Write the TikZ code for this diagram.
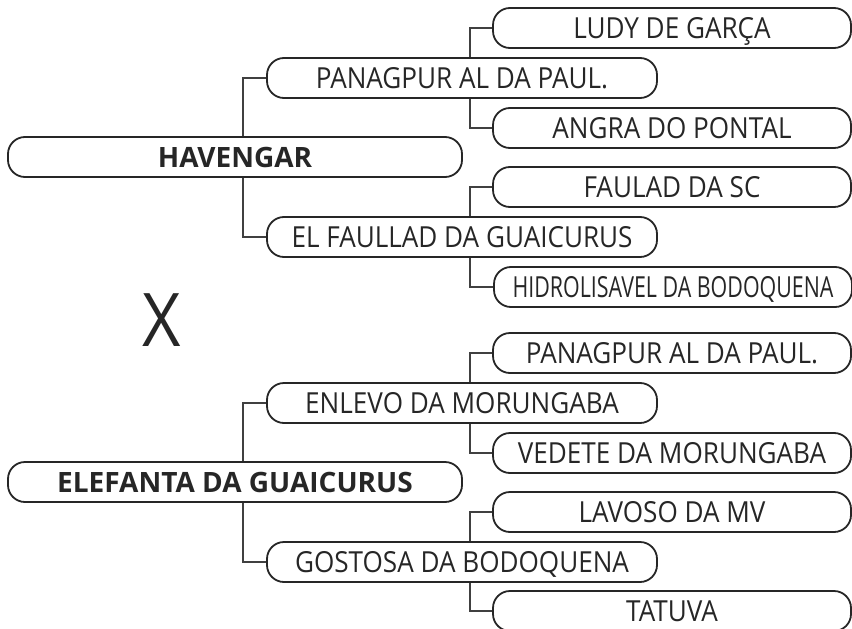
\documentclass[tikz,border=0pt]{standalone}
\usepackage{fontspec}
\setmainfont{Open Sans}
\newfontfamily\namefont{Open Sans}[FakeStretch=0.9]

\begin{document}
\begin{tikzpicture}[x=1pt, y=-1pt,
    box/.style={draw=black!85, line width=1.8pt, rounded corners=17pt, minimum height=40pt, inner sep=0pt, text height=21pt, text depth=0pt, text=black!85, font=\namefont\fontsize{29}{32}\selectfont},
    rootbox/.style={box, minimum width=454pt, font=\fontsize{28}{32}\selectfont\bfseries},
    midbox/.style={box, minimum width=390pt},
    leafbox/.style={box, minimum width=358pt},
    link/.style={draw=black!75, line width=1.2pt}]
    \useasboundingbox (0,0) rectangle (852,629);

    % first tree
    \node[rootbox] (havengar) at (235,157) {HAVENGAR};
    \node[midbox] (panagpur) at (462,78) {PANAGPUR AL DA PAUL.};
    \node[leafbox] (ludy) at (672,28) {LUDY DE GARÇA};
    \node[leafbox] (angra) at (672,128) {ANGRA DO PONTAL};
    \node[midbox] (faullad) at (462,237) {EL FAULLAD DA GUAICURUS};
    \node[leafbox] (faulad) at (672,187) {FAULAD DA SC};
    \node[leafbox] (hidro) at (673,287) {\scalebox{0.82}[1]{HIDROLISAVEL DA BODOQUENA}};

    \node[text=black!85, font=\namefont\fontsize{74}{80}\selectfont] (versus) at (162,320) {X};

    % second tree
    \node[rootbox] (elefanta) at (235,482) {ELEFANTA DA GUAICURUS};
    \node[midbox] (enlevo) at (462,403) {ENLEVO DA MORUNGABA};
    \node[leafbox] (panagpurb) at (672,353) {PANAGPUR AL DA PAUL.};
    \node[leafbox] (vedete) at (672,453) {VEDETE DA MORUNGABA};
    \node[midbox] (gostosa) at (462,562) {GOSTOSA DA BODOQUENA};
    \node[leafbox] (lavoso) at (672,512) {LAVOSO DA MV};
    \node[leafbox] (tatuva) at (672,611) {TATUVA};

    \draw[link] ([xshift=8pt]havengar.north) |- (panagpur.west);
    \draw[link] ([xshift=8pt]havengar.south) |- (faullad.west);
    \draw[link] ([xshift=8pt]panagpur.north) |- (ludy.west);
    \draw[link] ([xshift=8pt]panagpur.south) |- (angra.west);
    \draw[link] ([xshift=8pt]faullad.north) |- (faulad.west);
    \draw[link] ([xshift=8pt]faullad.south) |- (hidro.west);

    \draw[link] ([xshift=8pt]elefanta.north) |- (enlevo.west);
    \draw[link] ([xshift=8pt]elefanta.south) |- (gostosa.west);
    \draw[link] ([xshift=8pt]enlevo.north) |- (panagpurb.west);
    \draw[link] ([xshift=8pt]enlevo.south) |- (vedete.west);
    \draw[link] ([xshift=8pt]gostosa.north) |- (lavoso.west);
    \draw[link] ([xshift=8pt]gostosa.south) |- (tatuva.west);
\end{tikzpicture}
\end{document}
